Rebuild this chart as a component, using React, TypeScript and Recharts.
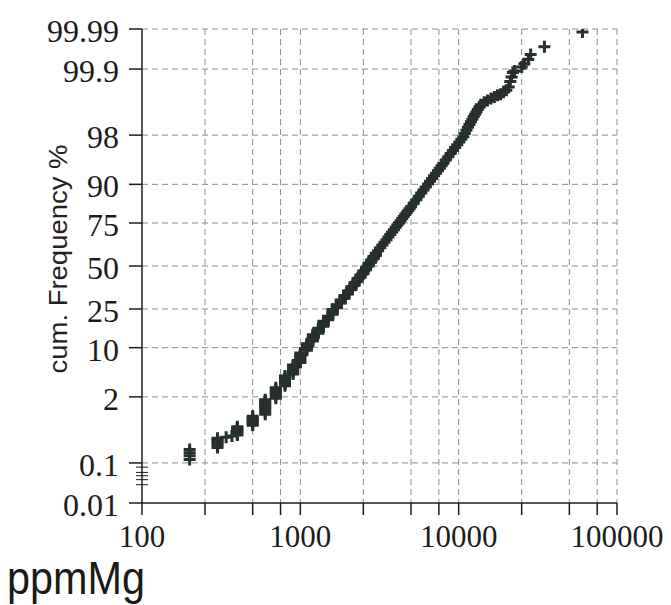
import React from 'react';
import { ScatterChart, Scatter, XAxis, YAxis, CartesianGrid } from 'recharts';

// Mg concentration (ppm) of each plotted sample and its cumulative frequency (%)
const ppmValues = [
  200, 200, 200, 200,
  300, 300, 300, 300, 300, 300, 340, 370,
  400, 400, 400, 400, 400, 400, 400,
  500, 500, 500, 500, 500, 500, 500,
  600, 600, 600, 600, 600, 600, 600, 600, 600,
  700, 700, 700, 700, 700, 700, 700,
  800, 800, 800, 800, 800, 800, 800,
  900, 900, 900, 900, 900, 900, 900,
  1000, 1000, 1000, 1000, 1000, 1000, 1000,
  1100, 1100, 1100, 1100, 1100,
  1200, 1200, 1200, 1200, 1200,
  1300, 1300, 1300, 1300,
  1400, 1400, 1400, 1400,
  1500, 1500, 1500,
  1600, 1600, 1600, 1600,
  1700, 1700, 1700, 1800, 1800, 1800, 1900, 1900, 1900,
  2000, 2000, 2000, 2100, 2100, 2100, 2200, 2200, 2200,
  2300, 2300, 2300, 2400, 2400, 2400, 2500, 2500, 2500,
  2600, 2600, 2600, 2700, 2700, 2700, 2800, 2800, 2800,
  2900, 2900, 2900, 3000, 3000, 3000,
  3100, 3200, 3300, 3400, 3500, 3600, 3700, 3800, 3900, 4000,
  4100, 4200, 4300, 4400, 4500, 4600, 4700, 4800, 4900, 5000,
  5200, 5400, 5600, 5800, 6000, 6200, 6400, 6600, 6800, 7000,
  7200, 7400, 7600, 7800, 8000,
  8300, 8600, 8900, 9200, 9500, 9800, 10100, 10400, 10700,
  10950, 11200, 11450, 11700, 11950, 12200, 12450, 12700, 12950, 13200,
  13500, 13800, 14500, 15200, 16000,
  16800, 17600, 18400, 19200, 20000, 20700, 21200, 21600, 22000,
  22500, 25000, 26000, 27500, 28500, 34800, 60500,
];

const cumFrequencyPct = [
  0.12, 0.145, 0.17, 0.2,
  0.22, 0.245, 0.27, 0.295, 0.32, 0.345, 0.36, 0.38,
  0.40, 0.43, 0.46, 0.49, 0.52, 0.55, 0.58,
  0.62, 0.67, 0.72, 0.77, 0.82, 0.87, 0.92,
  1.0, 1.1, 1.2, 1.3, 1.4, 1.5, 1.6, 1.7, 1.8,
  1.9, 2.05, 2.2, 2.35, 2.5, 2.65, 2.8,
  3.0, 3.2, 3.4, 3.6, 3.8, 4.0, 4.2,
  4.5, 4.75, 5.0, 5.25, 5.5, 5.75, 6.0,
  6.5, 6.85, 7.2, 7.55, 7.9, 8.25, 8.6,
  9.3, 9.75, 10.2, 10.65, 11.1,
  12, 12.5, 13, 13.5, 14,
  14.6, 15.2, 15.8, 16.4,
  17.2, 17.9, 18.6, 19.3,
  20, 20.8, 21.5,
  22.4, 23.2, 24.0, 24.8,
  25.6, 26.4, 27.2, 28.1, 28.9, 29.7, 30.6, 31.4, 32.2,
  33.1, 33.9, 34.7, 35.6, 36.4, 37.2, 38.1, 38.9, 39.7,
  40.6, 41.4, 42.2, 43.0, 43.7, 44.4, 45.2, 46.0, 46.8,
  47.6, 48.4, 49.2, 50.0, 50.8, 51.6, 52.4, 53.1, 53.8,
  54.5, 55.2, 55.9, 56.6, 57.3, 58.0,
  59.4, 61.2, 62.85, 64.5, 66.0, 67.5, 68.9, 70.25, 71.56, 72.8,
  73.95, 75.05, 76.15, 77.15, 78.13, 79.05, 79.94, 80.8, 81.59, 82.35,
  83.8, 85.1, 86.3, 87.4, 88.35, 89.25, 90.08, 90.8, 91.52, 92.15,
  92.73, 93.27, 93.76, 94.2, 94.62,
  95.18, 95.67, 96.11, 96.49, 96.84, 97.14, 97.42, 97.66, 97.88,
  98.12, 98.35, 98.52, 98.68, 98.82, 98.94, 99.05, 99.14, 99.22, 99.30,
  99.37, 99.43, 99.49, 99.53, 99.57,
  99.60, 99.63, 99.65, 99.68, 99.71, 99.75, 99.81, 99.85, 99.88,
  99.89, 99.91, 99.925, 99.94, 99.955, 99.971, 99.988,
];

const xTickValues = [100, 250, 500, 750, 1000, 2500, 5000, 7500, 10000, 25000, 50000, 75000, 100000];
const xLabelValues = [100, 1000, 10000, 100000];
const yTickPct = [0.01, 0.1, 2, 10, 25, 50, 75, 90, 98, 99.9, 99.99];
const yTickLabels = ['0.01', '0.1', '2', '10', '25', '50', '75', '90', '98', '99.9', '99.99'];
const yMinorPct = [0.03, 0.04, 0.05, 0.06, 0.08];

// inverse normal CDF (probability-paper scale transform)
function probit(p: number): number {
  const a = [-3.969683028665376e1, 2.209460984245205e2, -2.759285104469687e2, 1.38357751867269e2, -3.066479806614716e1, 2.506628277459239];
  const b = [-5.447609879822406e1, 1.615858368580409e2, -1.556989798598866e2, 6.680131188771972e1, -1.328068155288572e1];
  const c = [-7.784894002430293e-3, -3.223964580411365e-1, -2.400758277161838, -2.549732539343734, 4.374664141464968, 2.938163982698783];
  const d = [7.784695709041462e-3, 3.224671290700398e-1, 2.445134137142996, 3.754408661907416];
  const plow = 0.02425;
  const phigh = 1 - plow;
  if (p < plow) {
    const q = Math.sqrt(-2 * Math.log(p));
    return (((((c[0] * q + c[1]) * q + c[2]) * q + c[3]) * q + c[4]) * q + c[5]) / ((((d[0] * q + d[1]) * q + d[2]) * q + d[3]) * q + 1);
  }
  if (p <= phigh) {
    const q = p - 0.5;
    const r = q * q;
    return ((((((a[0] * r + a[1]) * r + a[2]) * r + a[3]) * r + a[4]) * r + a[5]) * q) / (((((b[0] * r + b[1]) * r + b[2]) * r + b[3]) * r + b[4]) * r + 1);
  }
  const q = Math.sqrt(-2 * Math.log(1 - p));
  return -(((((c[0] * q + c[1]) * q + c[2]) * q + c[3]) * q + c[4]) * q + c[5]) / ((((d[0] * q + d[1]) * q + d[2]) * q + d[3]) * q + 1);
}

const data = ppmValues.map((ppm, i) => ({ ppm, z: probit(cumFrequencyPct[i] / 100) }));
const majorZ = yTickPct.map((p) => probit(p / 100));
const minorZ = yMinorPct.map((p) => probit(p / 100));
const yTicks = [...majorZ, ...minorZ];
const zMin = majorZ[0];
const zMax = majorZ[majorZ.length - 1];

const SERIF = "'Liberation Serif', 'Times New Roman', serif";
const SANS = "'Liberation Sans', Arial, sans-serif";
const INK = '#1c1c1c';

const Cross = (props: any) => {
  const { cx, cy } = props;
  if (cx == null || cy == null) return null;
  const s = 6;
  return (
    <path
      d={`M${cx - s},${cy}H${cx + s}M${cx},${cy - s}V${cy + s}`}
      stroke="#26302c"
      strokeWidth={3}
      fill="none"
    />
  );
};

const XTick = (props: any) => {
  const { x, y, payload } = props;
  const v = payload.value;
  const isLabel = xLabelValues.some((l) => Math.abs(l - v) < 1e-6);
  return (
    <g>
      <line x1={x} y1={y} x2={x} y2={y + 12} stroke={INK} strokeWidth={1.5} />
      {isLabel && (
        <text x={x} y={y + 44} textAnchor="middle" fontFamily={SERIF} fontSize={31} fill={INK}>
          {String(v)}
        </text>
      )}
    </g>
  );
};

const YTick = (props: any) => {
  const { x, y, payload } = props;
  const v = payload.value;
  const idx = majorZ.findIndex((m) => Math.abs(m - v) < 1e-9);
  if (idx < 0) {
    return <line x1={x - 6} y1={y} x2={x + 6} y2={y} stroke={INK} strokeWidth={1} />;
  }
  return (
    <g>
      <line x1={x - 13} y1={y} x2={x} y2={y} stroke={INK} strokeWidth={1.5} />
      <text x={x - 23} y={y + 13} textAnchor="end" fontFamily={SERIF} fontSize={32} fill={INK}>
        {yTickLabels[idx]}
      </text>
    </g>
  );
};

export default function App() {
  return (
    <div style={{ position: 'absolute', left: 0, top: 0, width: 671, height: 605, background: '#fff' }}>
      <ScatterChart width={671} height={605} margin={{ top: 29, right: 54, bottom: 42, left: 62 }}>
        <CartesianGrid
          stroke="#8c8c8c"
          strokeDasharray="6 4"
          horizontalValues={majorZ.slice(1)}
          verticalValues={xTickValues.slice(1)}
        />
        <XAxis
          type="number"
          dataKey="ppm"
          scale="log"
          domain={[100, 100000]}
          ticks={xTickValues}
          interval={0}
          tick={<XTick />}
          tickLine={false}
          tickSize={0}
          tickMargin={0}
          axisLine={{ stroke: INK, strokeWidth: 1.5 }}
          height={60}
          allowDataOverflow
        />
        <YAxis
          type="number"
          dataKey="z"
          domain={[zMin, zMax]}
          ticks={yTicks}
          interval={0}
          tick={<YTick />}
          tickLine={false}
          tickSize={0}
          tickMargin={0}
          axisLine={{ stroke: INK, strokeWidth: 1.5 }}
          width={80}
          allowDataOverflow
        />
        <Scatter data={data} shape={<Cross />} isAnimationActive={false} />
      </ScatterChart>
      <svg
        width={671}
        height={605}
        style={{ position: 'absolute', left: 0, top: 0, pointerEvents: 'none' }}
      >
        <text
          transform="translate(67,259) rotate(-90)"
          textAnchor="middle"
          fontFamily={SANS}
          fontSize={25}
          fill="#222"
          textLength={229}
          lengthAdjust="spacingAndGlyphs"
        >
          cum. Frequency %
        </text>
        <text
          x={7}
          y={594}
          fontFamily={SANS}
          fontSize={46}
          fill="#1a1a1a"
          textLength={138}
          lengthAdjust="spacingAndGlyphs"
        >
          ppmMg
        </text>
      </svg>
    </div>
  );
}
